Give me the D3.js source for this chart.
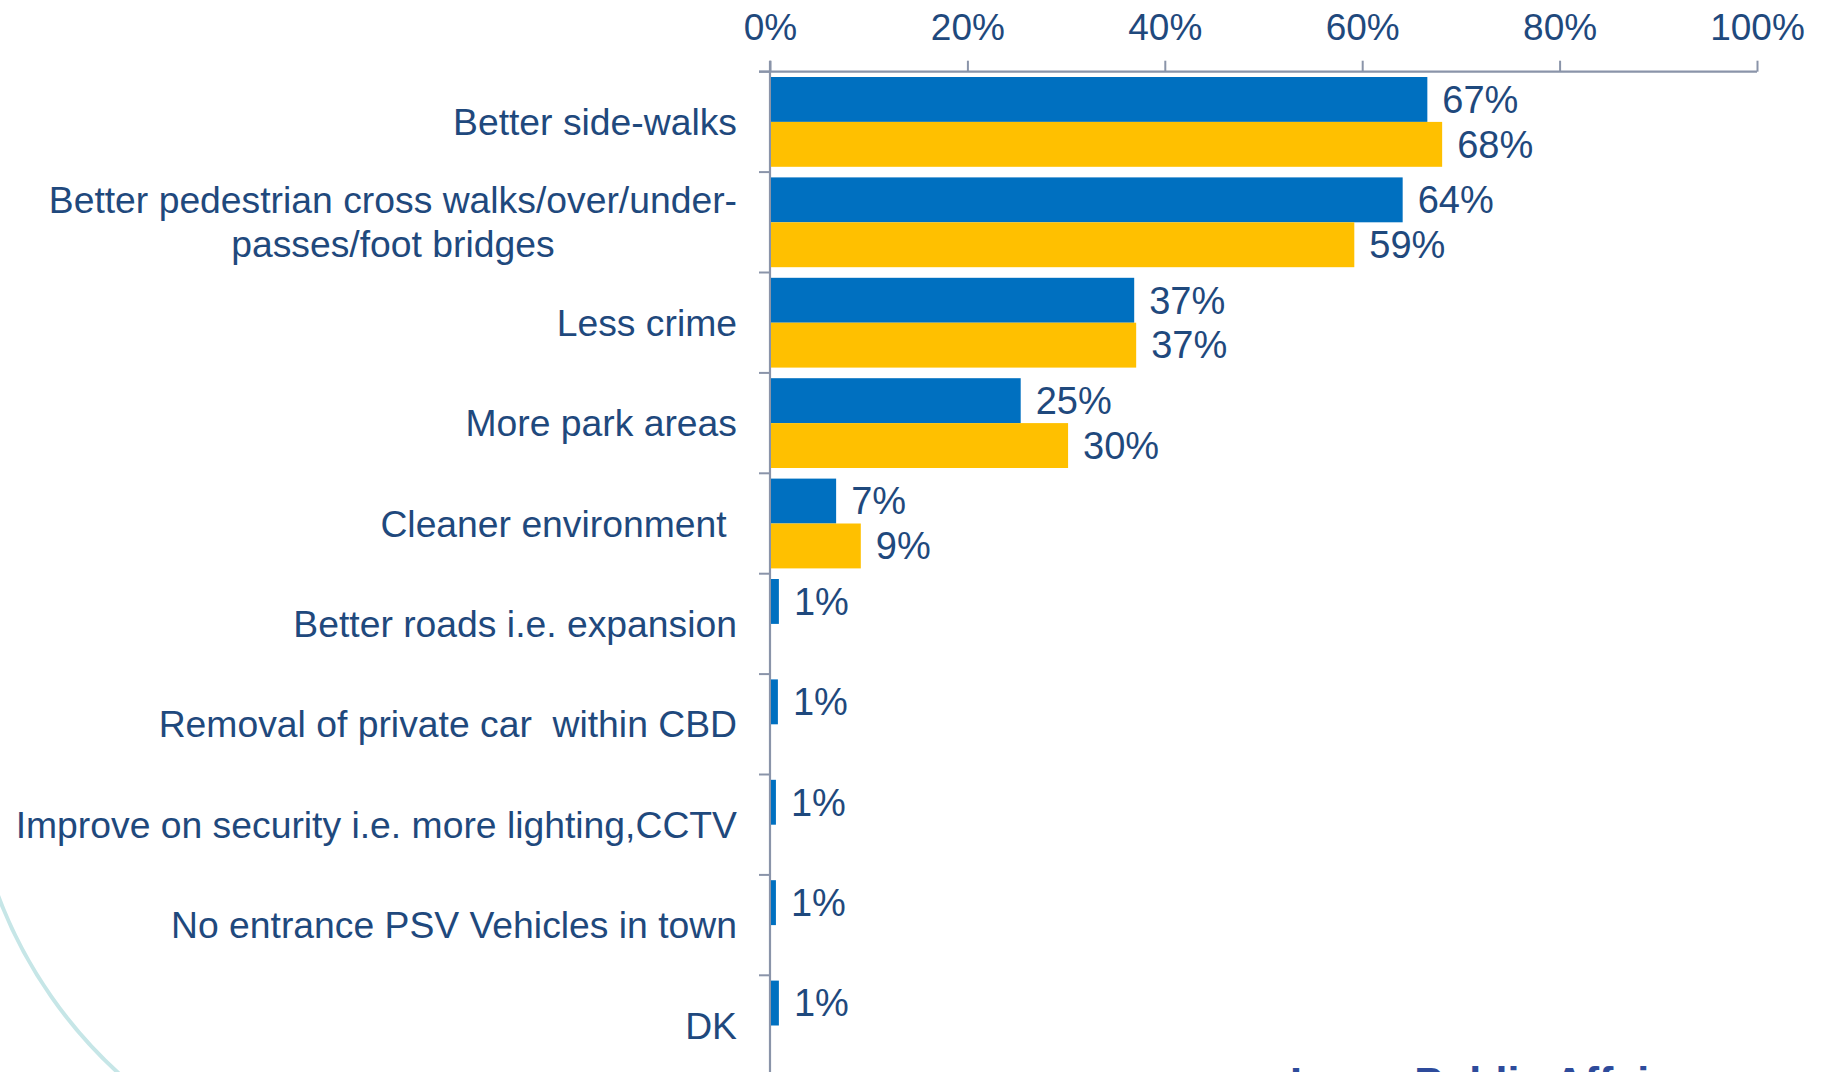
<!DOCTYPE html>
<html>
<head>
<meta charset="utf-8">
<script src="https://cdn.jsdelivr.net/npm/d3@7"></script>
<style>
  html, body { margin: 0; padding: 0; background: #ffffff; }
  svg { display: block; }
  text { font-family: "Liberation Sans", Arial, sans-serif; }
</style>
</head>
<body>
<svg id="chart" width="1825" height="1072"></svg>
<script>
// ---------- data ----------
const categories = [
  ["Better side-walks"],
  ["Better pedestrian cross walks/over/under-", "passes/foot bridges"],
  ["Less crime"],
  ["More park areas"],
  ["Cleaner environment "],
  ["Better roads i.e. expansion"],
  ["Removal of private car  within CBD"],
  ["Improve on security i.e. more lighting,CCTV"],
  ["No entrance PSV Vehicles in town"],
  ["DK"]
];
const seriesNames = ["Series A", "Series B"];
const seriesA = [66.6, 64.1, 36.9, 25.4, 6.7, 0.9, 0.8, 0.6, 0.6, 0.9];
const seriesB = [68.1, 59.2, 37.1, 30.2, 9.2, null, null, null, null, null];
const tickValues = [0, 20, 40, 60, 80, 100];
const tickLabels = ["0%", "20%", "40%", "60%", "80%", "100%"];
const seriesColors = ["#0070C0", "#FFC000"];

// ---------- layout ----------
const W = 1825, H = 1072;
const textColor = "#1F497D";
const axisColor = "#8A94A9";
const fsCat = 37.3, fsVal = 38, fsTick = 37;

const svg = d3.select("#chart");
svg.append("rect").attr("width", W).attr("height", H).attr("fill", "#fff");

// decorative arc bottom-left
const deco = d3.path();
deco.arc(426, 735, 457, 166 * Math.PI / 180, 124 * Math.PI / 180, true);
svg.append("path").attr("d", deco.toString())
  .attr("fill", "none").attr("stroke", "#C6E6E7").attr("stroke-width", 4);

const x = d3.scaleLinear().domain([0, 100]).range([770, 1757]);
const idx = d3.range(categories.length);
const y = d3.scaleBand().domain(idx).range([71.7, 71.7 + 100.4 * categories.length]).padding(0);
const inner = d3.scaleBand().domain(seriesNames).range([5.3, y.bandwidth() - 5.3]).padding(0);

// top axis
const xAxis = d3.axisTop(x).tickValues(tickValues)
  .tickFormat((d, i) => tickLabels[i]).tickSize(11).tickSizeOuter(0).tickPadding(21);
const gx = svg.append("g").attr("transform", `translate(0,${y.range()[0]})`).call(xAxis);
gx.select(".domain").attr("stroke", axisColor).attr("stroke-width", 2.2)
  .attr("d", `M${x(0) - 11},0H${x(100)}`);
gx.selectAll(".tick line").attr("stroke", axisColor).attr("stroke-width", 2);
gx.selectAll(".tick text").attr("fill", textColor).attr("font-size", fsTick)
  .attr("font-family", '"Liberation Sans", Arial, sans-serif');

// left axis line (category boundaries as ticks)
svg.append("line").attr("x1", x(0)).attr("x2", x(0))
  .attr("y1", y.range()[0] - 11).attr("y2", H + 5)
  .attr("stroke", axisColor).attr("stroke-width", 2.2);
svg.append("g").selectAll("line").data(idx).join("line")
  .attr("x1", x(0) - 11).attr("x2", x(0))
  .attr("y1", d => y(d)).attr("y2", d => y(d))
  .attr("stroke", axisColor).attr("stroke-width", 2);

// bars
const series = [seriesA, seriesB];
const barData = [];
series.forEach((vals, s) => vals.forEach((v, i) => {
  if (v != null) barData.push({ i, s, v });
}));
svg.append("g").selectAll("rect").data(barData).join("rect")
  .attr("x", x(0) + 1)
  .attr("y", d => y(d.i) + inner(seriesNames[d.s]))
  .attr("width", d => x(d.v) - x(0) - 1)
  .attr("height", inner.bandwidth())
  .attr("fill", d => seriesColors[d.s]);

// value labels
svg.append("g").selectAll("text").data(barData).join("text")
  .attr("x", d => x(d.v) + 15)
  .attr("y", d => y(d.i) + inner(seriesNames[d.s]) + inner.bandwidth() / 2)
  .attr("dy", "0.35em")
  .attr("fill", textColor).attr("font-size", fsVal)
  .text(d => Math.round(d.v) + "%");

// category labels
const labelX = 737;
const gl = svg.append("g");
categories.forEach((lines, i) => {
  const cy = y(i) + y.bandwidth() / 2;
  if (lines.length === 1) {
    gl.append("text").attr("x", labelX).attr("y", cy).attr("dy", "0.35em")
      .attr("text-anchor", "end").attr("fill", textColor).attr("font-size", fsCat)
      .style("white-space", "pre").text(lines[0]);
  } else {
    const lh = 44;
    const t0 = gl.append("text").attr("x", labelX).attr("y", cy - lh / 2).attr("dy", "0.35em")
      .attr("text-anchor", "end").attr("fill", textColor).attr("font-size", fsCat)
      .style("white-space", "pre").text(lines[0]);
    const w = t0.node().getComputedTextLength();
    gl.append("text").attr("x", labelX - w / 2).attr("y", cy + lh / 2).attr("dy", "0.35em")
      .attr("text-anchor", "middle").attr("fill", textColor).attr("font-size", fsCat)
      .style("white-space", "pre").text(lines[1]);
  }
});

// footer brand (cut off at bottom, as in the source slide)
svg.append("text").attr("x", 1290).attr("y", 1097)
  .attr("font-size", 43).attr("font-weight", "bold").attr("fill", "#2E4B9B")
  .text("Ipsos Public Affairs");
</script>
</body>
</html>
